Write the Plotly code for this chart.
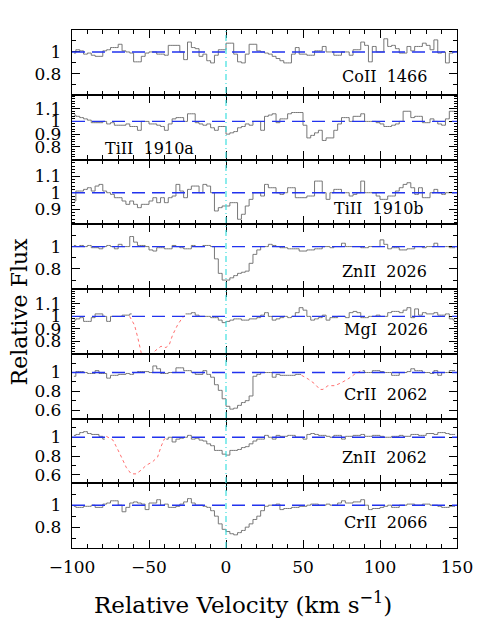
import plotly.graph_objects as go
from plotly.subplots import make_subplots

# Velocity bin centres (km/s), 2.5 km/s bins from -100 to 150
velocity = [-98.75 + 2.5 * i for i in range(100)]

co1466 = [
    0.99, 1.02, 1.01, 0.98, 0.99, 0.97, 0.96, 0.96, 1.01, 1.02,
    1.04, 1.04, 1.07, 1.01, 1.00, 0.99, 0.91, 0.91, 0.96, 0.99,
    1.00, 1.00, 0.98, 0.98, 0.97, 1.06, 1.06, 1.06, 1.00, 0.93,
    1.09, 1.04, 1.03, 0.96, 0.98, 0.92, 0.90, 0.97, 1.02, 1.02,
    1.08, 1.08, 0.98, 0.91, 0.90, 0.98, 1.07, 1.07, 1.01, 1.00,
    0.99, 0.98, 0.96, 0.94, 0.92, 0.90, 0.90, 0.98, 1.04, 0.98,
    0.98, 0.97, 0.97, 1.01, 1.01, 1.05, 1.00, 1.00, 0.97, 0.97,
    1.00, 1.00, 0.97, 1.02, 1.02, 1.09, 1.06, 0.91, 1.05, 1.00,
    1.00, 1.12, 1.05, 1.06, 1.03, 0.99, 0.99, 1.05, 1.01, 1.05,
    1.05, 1.08, 1.06, 1.02, 1.11, 0.99, 1.00, 0.90, 0.99, 1.00]

ti1910a = [
    1.05, 1.04, 1.03, 1.02, 1.01, 0.99, 0.99, 0.99, 1.00, 0.98,
    0.99, 0.97, 0.97, 0.97, 0.98, 0.96, 0.96, 0.93, 1.00, 1.00,
    0.98, 0.98, 0.97, 0.96, 0.93, 0.98, 1.02, 1.03, 1.03, 1.00,
    1.06, 1.06, 0.99, 0.98, 0.97, 0.98, 0.95, 0.93, 0.96, 0.96,
    0.90, 0.91, 0.92, 0.95, 0.96, 0.98, 0.97, 1.00, 1.00, 0.93,
    1.04, 1.05, 1.06, 0.99, 1.02, 1.02, 1.06, 1.07, 1.07, 1.07,
    0.97, 0.87, 0.89, 0.91, 0.93, 0.85, 0.87, 0.87, 0.93, 0.98,
    1.03, 1.03, 1.00, 1.04, 1.04, 1.06, 1.00, 1.00, 1.00, 0.99,
    0.98, 0.96, 0.96, 0.97, 0.98, 1.00, 1.08, 1.08, 1.03, 1.04,
    1.04, 0.99, 0.99, 1.02, 1.00, 0.98, 0.97, 1.02, 1.08, 1.08]

ti1910b = [
    0.95, 1.01, 1.01, 1.02, 1.03, 1.01, 1.04, 1.05, 1.01, 1.00,
    0.99, 0.97, 0.97, 0.95, 0.93, 0.95, 0.93, 0.91, 0.93, 0.93,
    0.95, 0.97, 0.94, 0.97, 0.94, 0.97, 0.98, 1.05, 1.01, 0.97,
    1.02, 1.04, 1.04, 1.00, 1.05, 1.04, 1.00, 0.89, 0.91, 0.92,
    0.92, 0.94, 0.94, 0.84, 0.87, 0.92, 0.96, 1.00, 1.00, 0.98,
    1.05, 1.03, 1.03, 1.00, 0.99, 1.00, 1.03, 1.03, 0.97, 0.97,
    0.97, 0.98, 0.98, 1.07, 1.07, 1.00, 0.96, 1.00, 1.02, 1.02,
    1.00, 1.00, 0.98, 0.99, 1.00, 1.07, 1.00, 1.00, 1.00, 0.98,
    0.96, 0.96, 0.98, 0.98, 1.01, 1.03, 1.05, 1.06, 1.03, 0.99,
    1.03, 0.97, 0.97, 1.00, 1.02, 1.00, 0.99, 1.00, 1.00, 1.00]

zn2026 = [
    1.01, 1.00, 1.01, 1.00, 1.01, 0.99, 0.99, 0.98, 1.00, 1.01,
    1.00, 0.98, 1.02, 1.00, 1.00, 1.09, 1.04, 1.01, 1.01, 1.00,
    0.97, 0.96, 0.99, 0.99, 0.98, 0.98, 1.01, 1.00, 0.99, 0.98,
    0.98, 1.01, 1.00, 1.00, 1.01, 1.01, 1.00, 0.89, 0.76, 0.70,
    0.70, 0.72, 0.74, 0.76, 0.77, 0.78, 0.85, 0.93, 0.97, 1.00,
    1.00, 1.02, 1.01, 1.00, 0.99, 0.99, 0.98, 0.98, 0.98, 0.96,
    0.96, 0.97, 0.97, 0.98, 0.98, 1.00, 1.00, 0.99, 1.00, 1.00,
    1.03, 1.00, 1.00, 1.00, 1.00, 0.99, 0.99, 1.00, 1.00, 1.00,
    1.06, 1.02, 0.98, 0.99, 0.99, 0.97, 0.97, 0.98, 0.98, 1.00,
    1.00, 0.99, 1.00, 1.00, 1.03, 1.00, 1.00, 1.00, 0.99, 0.99]

N = None
mg2026 = [
    0.97, 0.98, 0.99, 0.96, 0.96, 0.99, 1.02, 1.02, 1.00, 0.96,
    1.00, 1.00, 1.00, 1.01, 1.01, 1.02, N, N, N, N,
    N, N, N, N, N, N, N, N, N, 1.02,
    1.02, 1.03, 1.01, 1.00, 1.00, 1.00, 0.99, 0.99, 0.97, 0.95,
    0.96, 0.97, 0.98, 0.98, 0.97, 0.97, 0.98, 0.98, 0.99, 1.01,
    1.03, 1.00, 0.97, 0.98, 0.99, 1.00, 0.99, 1.00, 1.03, 1.07,
    1.05, 1.00, 0.97, 0.98, 0.99, 1.01, 0.97, 0.99, 0.99, 1.00,
    1.00, 0.99, 1.03, 1.04, 1.03, 0.99, 0.99, 1.00, 1.00, 1.01,
    1.00, 1.00, 1.03, 1.04, 1.04, 1.03, 1.05, 1.07, 0.99, 1.06,
    1.01, 1.03, 1.02, 1.02, 1.03, 1.01, 1.01, 1.02, 0.98, 0.97]

cr2062 = [
    0.96, 1.01, 1.01, 1.00, 0.99, 0.99, 1.02, 0.99, 0.99, 0.94,
    0.97, 0.97, 0.98, 0.98, 0.99, 0.98, 1.00, 1.01, 1.01, 1.01,
    1.00, 1.07, 1.04, 0.99, 0.99, 1.00, 1.00, 1.05, 1.05, 1.02,
    1.02, 1.00, 0.98, 0.98, 1.02, 0.98, 0.95, 0.87, 0.81, 0.72,
    0.64, 0.61, 0.62, 0.65, 0.68, 0.70, 0.75, 0.96, 0.98, 1.00,
    1.00, 1.00, 0.95, 0.98, 0.97, 0.97, 0.97, 0.97, 0.98, 0.98,
    N, N, N, N, N, N, N, N, N, N,
    N, N, N, N, N, 1.02, 1.00, 1.00, 1.02, 1.02,
    1.01, 1.00, 1.00, 0.97, 0.97, 1.00, 1.00, 1.01, 1.04, 1.02,
    1.02, 1.00, 1.00, 0.99, 1.02, 0.97, 1.00, 1.00, 1.02, 1.02]

zn2062 = [
    1.02, 1.03, 1.05, 1.06, 1.04, 1.03, 1.03, 1.01, 0.98, N,
    N, N, N, N, N, N, N, N, N, N,
    N, N, N, N, 0.98, 1.00, 0.95, 0.98, 0.99, 1.00,
    1.02, 0.98, 0.99, 0.97, 0.96, 0.93, 0.91, 0.86, 0.86, 0.82,
    0.81, 0.86, 0.86, 0.87, 0.89, 0.90, 0.93, 0.96, 0.98, 0.98,
    1.02, 1.00, 0.98, 1.02, 1.01, 1.01, 1.02, 1.02, 1.00, 1.00,
    0.98, 1.03, 1.04, 1.03, 1.02, 1.02, 1.01, 1.00, 1.02, 1.02,
    0.98, 1.01, 1.01, 1.02, 1.02, 1.03, 1.01, 1.01, 1.02, 1.02,
    1.01, 1.00, 1.00, 1.01, 1.01, 1.02, 1.01, 1.01, 1.03, 1.03,
    1.02, 1.02, 1.04, 1.04, 1.03, 1.05, 1.05, 1.04, 1.03, 1.03]

cr2066 = [
    0.99, 0.98, 0.98, 0.99, 0.99, 1.00, 0.98, 0.98, 1.01, 1.02,
    1.04, 1.04, 1.00, 0.94, 0.98, 1.02, 1.03, 1.02, 1.01, 0.96,
    1.02, 1.02, 1.05, 1.00, 1.01, 0.98, 0.98, 0.99, 1.01, 1.03,
    1.06, 1.02, 1.00, 1.00, 0.99, 0.98, 0.95, 0.90, 0.83, 0.78,
    0.76, 0.74, 0.73, 0.75, 0.77, 0.80, 0.83, 0.87, 0.90, 0.95,
    0.99, 1.00, 1.00, 1.01, 0.96, 0.97, 0.97, 0.98, 0.98, 0.99,
    0.99, 1.00, 1.01, 1.01, 1.00, 1.00, 1.01, 1.00, 1.00, 1.02,
    1.04, 1.02, 1.02, 1.03, 1.03, 1.05, 1.00, 0.96, 0.97, 0.97,
    0.98, 0.99, 1.00, 0.98, 0.98, 1.00, 1.00, 1.01, 1.01, 1.00,
    1.00, 1.01, 1.01, 1.00, 1.00, 0.99, 0.98, 0.98, 0.99, 0.99]

# Blended features (red dotted)
mg_blend_v = [-62.6, -59.4, -57.3, -55.1, -53.0, -50.8, -47.8, -45.4, -42.2, -39.0, -36.9, -34.7, -31.5, -28.3, -26.1]
mg_blend_f = [1.00, 0.93, 0.83, 0.71, 0.66, 0.65, 0.70, 0.73, 0.76, 0.75, 0.77, 0.85, 0.93, 0.99, 1.01]
cr_blend_v = [49.1, 53.4, 57.6, 60.9, 63.0, 66.2, 70.6, 74.8, 79.1, 83.4, 87.7]
cr_blend_f = [0.97, 0.93, 0.88, 0.82, 0.82, 0.86, 0.86, 0.89, 0.93, 0.98, 1.02]
zn_blend_v = [-77.7, -73.4, -69.1, -64.8, -61.6, -58.3, -55.1, -51.9, -47.6, -44.4, -42.2, -40.1, -39.0]
zn_blend_f = [1.01, 0.97, 0.83, 0.68, 0.61, 0.61, 0.65, 0.70, 0.74, 0.79, 0.90, 0.98, 0.99]

labels = ["CoII\u00a0\u00a01466", "TiII\u00a0\u00a01910a", "TiII\u00a0\u00a01910b", "ZnII\u00a0\u00a02026",
          "MgI\u00a0\u00a02026", "CrII\u00a0\u00a02062", "ZnII\u00a0\u00a02062", "CrII\u00a0\u00a02066"]
fluxes = [co1466, ti1910a, ti1910b, zn2026, mg2026, cr2062, zn2062, cr2066]
blends = {5: (mg_blend_v, mg_blend_f), 6: (cr_blend_v, cr_blend_f), 7: (zn_blend_v, zn_blend_f)}

# layout config per panel: y range, major ticks, minor step, label anchor/x/y
panel_cfg = [
    dict(rng=[0.61, 1.2], tv=[0.8, 1.0], minor=0.1, anchor="right", lx=132, ly=0.775),
    dict(rng=[0.70, 1.21], tv=[0.8, 0.9, 1.0, 1.1], minor=0.02, anchor="left", lx=-80, ly=0.784),
    dict(rng=[0.81, 1.2], tv=[0.9, 1.0, 1.1], minor=0.02, anchor="right", lx=130, ly=0.905),
    dict(rng=[0.62, 1.2], tv=[0.8, 1.0], minor=0.1, anchor="right", lx=132, ly=0.773),
    dict(rng=[0.70, 1.22], tv=[0.8, 0.9, 1.0, 1.1], minor=0.02, anchor="right", lx=132.5, ly=0.893),
    dict(rng=[0.51, 1.2], tv=[0.6, 0.8, 1.0], minor=0.1, anchor="right", lx=132, ly=0.769),
    dict(rng=[0.51, 1.2], tv=[0.6, 0.8, 1.0], minor=0.1, anchor="right", lx=132, ly=0.782),
    dict(rng=[0.61, 1.2], tv=[0.8, 1.0], minor=0.1, anchor="right", lx=132, ly=0.84),
]

FONT = "DejaVu Serif"

fig = make_subplots(rows=8, cols=1, shared_xaxes=True, vertical_spacing=0)

for i, (lab, fl, cfg) in enumerate(zip(labels, fluxes, panel_cfg), start=1):
    fig.add_trace(go.Scatter(x=velocity, y=fl, mode="lines",
                             line=dict(shape="hvh", color="#777777", width=1),
                             connectgaps=False, hoverinfo="skip", showlegend=False),
                  row=i, col=1)
    if i in blends:
        bv, bf = blends[i]
        fig.add_trace(go.Scatter(x=bv, y=bf, mode="lines",
                                 line=dict(color="#ff7070", width=1, dash="dot"),
                                 hoverinfo="skip", showlegend=False),
                      row=i, col=1)
    fig.update_yaxes(range=cfg["rng"], tickmode="array", tickvals=cfg["tv"],
                     ticktext=[("1" if v == 1.0 else f"{v:g}") for v in cfg["tv"]],
                     ticks="inside", ticklen=8, tickwidth=1, tickcolor="black",
                     minor=dict(tickmode="linear", tick0=0, dtick=cfg["minor"],
                                ticks="inside", ticklen=4 if cfg["minor"] >= 0.1 else 3,
                                tickcolor="black", tickwidth=1, showgrid=False),
                     showline=True, linecolor="black", linewidth=1.3, mirror="ticks",
                     showgrid=False, zeroline=False, ticklabelstandoff=6,
                     tickfont=dict(family=FONT, size=17, color="black"),
                     row=i, col=1)
    fig.add_shape(type="line", x0=-100, x1=150, y0=1, y1=1,
                  xref=f"x{i if i > 1 else ''}", yref=f"y{i if i > 1 else ''}",
                  line=dict(color="#2233ee", width=1.4, dash="13px,7px"))
    fig.add_annotation(x=cfg["lx"], y=cfg["ly"], xref=f"x{i if i > 1 else ''}",
                       yref=f"y{i if i > 1 else ''}", text=lab, showarrow=False,
                       xanchor=cfg["anchor"], yanchor="middle",
                       font=dict(family=FONT, size=16, color="black"))

fig.update_xaxes(range=[-100, 150], tickmode="linear", tick0=-100, dtick=50,
                 ticks="inside", ticklen=8, tickwidth=1, tickcolor="black",
                 minor=dict(tickmode="linear", tick0=0, dtick=10, ticks="inside",
                            ticklen=4, tickcolor="black", tickwidth=1, showgrid=False),
                 showline=True, linecolor="black", linewidth=1.3, mirror="ticks",
                 showgrid=False, zeroline=False, ticklabelstandoff=3,
                 tickfont=dict(family=FONT, size=17, color="black"))
fig.update_xaxes(showticklabels=True, row=8, col=1)

# zero-velocity marker
fig.add_shape(type="line", x0=0, x1=0, y0=0, y1=1, xref="x", yref="paper",
              line=dict(color="#40e0e0", width=1.2, dash="6px,3px,1px,3px"))

fig.add_annotation(x=0.443, y=-0.106, xref="paper", yref="paper",
                   text="Relative Velocity (km s<sup>−1</sup>)", showarrow=False,
                   xanchor="center", yanchor="middle",
                   font=dict(family=FONT, size=23, color="black"))
fig.add_annotation(x=-0.1366, y=0.4575, xref="paper", yref="paper",
                   text="Relative Flux", showarrow=False, textangle=-90,
                   xanchor="center", yanchor="middle",
                   font=dict(family=FONT, size=22, color="black"))

# the page body adds an 8px margin, so the figure is 8px smaller with shifted margins
fig.update_layout(width=477, height=615,
                  margin=dict(l=64, r=25, t=22, b=75),
                  paper_bgcolor="white", plot_bgcolor="white",
                  showlegend=False)

fig.write_html("out.html")
